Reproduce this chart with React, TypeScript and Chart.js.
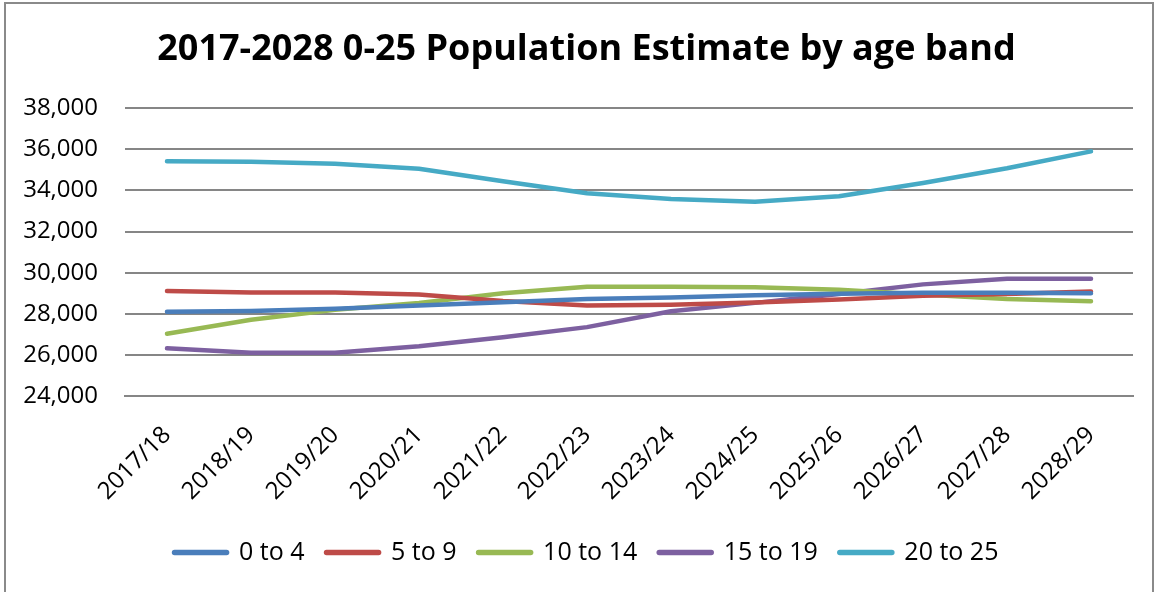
import React, { useEffect, useRef } from "react";
import { Chart, registerables } from "chart.js";

Chart.register(...registerables);

const categories = ["2017/18", "2018/19", "2019/20", "2020/21", "2021/22", "2022/23", "2023/24", "2024/25", "2025/26", "2026/27", "2027/28", "2028/29"];
const age0to4 = [28100, 28130, 28250, 28400, 28560, 28720, 28790, 28900, 28980, 29020, 29020, 29000];
const age5to9 = [29110, 29030, 29030, 28940, 28620, 28400, 28440, 28550, 28700, 28880, 28960, 29080];
const age10to14 = [27030, 27710, 28190, 28520, 29000, 29320, 29320, 29290, 29170, 28940, 28720, 28610];
const age15to19 = [26320, 26100, 26100, 26420, 26860, 27350, 28120, 28530, 28960, 29430, 29700, 29700];
const age20to25 = [35420, 35400, 35300, 35050, 34450, 33860, 33580, 33450, 33720, 34360, 35080, 35900];
const seriesNames = ["0 to 4", "5 to 9", "10 to 14", "15 to 19", "20 to 25"];
const seriesColors = ["#4a7ebb", "#be4b48", "#98b954", "#7d60a0", "#46aac5"];
const yMin = 24000;
const yMax = 38000;
const yStep = 2000;

export default function App() {
  const ref = useRef<HTMLCanvasElement | null>(null);
  useEffect(() => {
    if (!ref.current) return;
    const values = [age0to4, age5to9, age10to14, age15to19, age20to25];
    const chart = new Chart(ref.current, {
      type: "line",
      data: {
        labels: categories,
        datasets: values.map((v, i) => ({
          label: seriesNames[i],
          data: v,
          borderColor: seriesColors[i],
          backgroundColor: seriesColors[i],
          borderWidth: 4.5,
          borderCapStyle: "round",
          borderJoinStyle: "round",
          pointRadius: 0,
          pointStyle: "line",
          tension: 0,
          fill: false,
        })),
      },
      options: {
        responsive: false,
        animation: false,
        layout: { padding: { left: 20, right: 8, top: 0, bottom: 17 } },
        plugins: {
          title: {
            display: true,
            text: "2017-2028 0-25 Population Estimate by age band",
            color: "#000",
            font: { family: "Open Sans", size: 36, weight: "bold" },
            padding: { top: 28, bottom: 37 },
          },
          legend: {
            position: "bottom",
            labels: {
              color: "#000",
              font: { family: "Open Sans", size: 25 },
              usePointStyle: true,
              pointStyleWidth: 52,
              padding: 22,
              generateLabels: (c: any) =>
                c.data.datasets.map((d: any, i: number) => ({
                  text: d.label,
                  fillStyle: d.borderColor,
                  strokeStyle: d.borderColor,
                  lineWidth: 5.5,
                  lineCap: "round",
                  pointStyle: "line",
                  hidden: false,
                  datasetIndex: i,
                })),
            },
          },
          tooltip: { enabled: false },
        },
        scales: {
          x: {
            offset: true,
            grid: { display: false, drawTicks: false },
            border: { display: true, color: "#868686", width: 2 },
            ticks: {
              color: "#000",
              font: { family: "Open Sans", size: 24 },
              minRotation: 45,
              maxRotation: 45,
              padding: 25,
            },
            afterFit: (s: any) => {
              s.height = 122;
              s.paddingLeft = 0;
              s.paddingRight = 28;
            },
          },
          y: {
            min: yMin,
            max: yMax,
            grid: { color: "#868686", lineWidth: 2, drawTicks: false },
            border: { display: false },
            ticks: {
              stepSize: yStep,
              color: "#000",
              font: { family: "Open Sans", size: 24 },
              padding: 27,
              callback: (v: any) => Number(v).toLocaleString("en-US"),
            },
            afterFit: (s: any) => {
              s.width = 105;
            },
          },
        },
      },
    });
    return () => chart.destroy();
  }, []);
  return (
    <div style={{ position: "fixed", left: 0, top: 0, width: 1161, height: 592, background: "#fff" }}>
      <div style={{ position: "absolute", left: 4, top: 2, width: 1150, height: 620, border: "2px solid #8a8a8a", boxSizing: "border-box" }} />
      <canvas ref={ref} width={1161} height={592} style={{ position: "absolute", left: 0, top: 0 }} />
    </div>
  );
}
